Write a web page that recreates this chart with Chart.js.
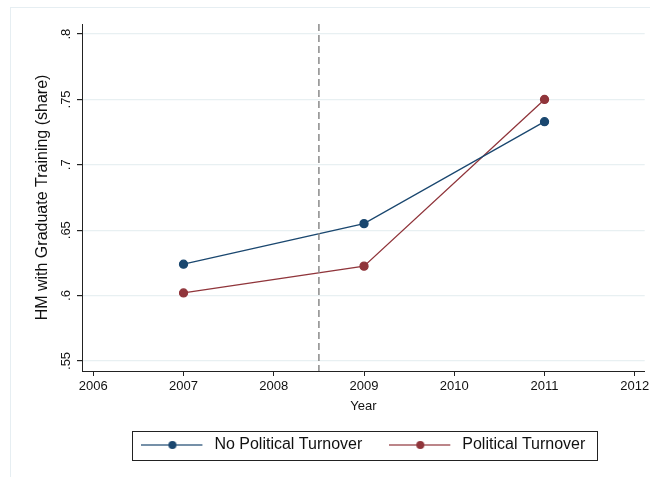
<!DOCTYPE html>
<html>
<head>
<meta charset="utf-8">
<script src="https://cdn.jsdelivr.net/npm/chart.js@4.4.1/dist/chart.umd.min.js"></script>
<style>
  html, body { margin: 0; padding: 0; background: #fff; }
  #wrap { width: 650px; height: 477px; }
</style>
</head>
<body>
<div id="wrap"><canvas id="myChart"></canvas></div>
<script>
const years = [2007, 2009, 2011];
const noTurnover = [0.624, 0.655, 0.733];
const turnover = [0.602, 0.6225, 0.750];
const xTicks = [2006, 2007, 2008, 2009, 2010, 2011, 2012];
const yTicks = [0.55, 0.6, 0.65, 0.7, 0.75, 0.8];
const yTickLabels = ['.55', '.6', '.65', '.7', '.75', '.8'];
const cutoffYear = 2008.5;

const blue = '#1a476f';
const red = '#90353b';
const font = 'Liberation Sans, Arial, sans-serif';

// legend symbol: short line with a dot in the middle
const legendSymbol = (color) => {
    const c = document.createElement('canvas');
    c.width = 65; c.height = 12;
    const g = c.getContext('2d');
    g.strokeStyle = color;
    g.globalAlpha = 0.8;
    g.lineWidth = 1.5;
    g.beginPath(); g.moveTo(0, 6); g.lineTo(61, 6); g.stroke();
    g.globalAlpha = 1;
    g.fillStyle = color;
    g.beginPath(); g.arc(31, 6, 4, 0, Math.PI * 2); g.fill();
    return c;
};
const symbols = [legendSymbol(blue), legendSymbol(red)];

const extras = {
    id: 'extras',
    beforeDraw(chart) {
        const ctx = chart.ctx;
        ctx.save();
        ctx.strokeStyle = '#e6eef2';
        ctx.lineWidth = 1;
        ctx.strokeRect(10.5, 7.5, 700, 500);
        ctx.restore();
    },
    afterDatasetsDraw(chart) {
        const ctx = chart.ctx;
        const a = chart.chartArea;
        const x = chart.scales.x.getPixelForValue(cutoffYear);
        ctx.save();
        ctx.strokeStyle = '#8a8a8a';
        ctx.lineWidth = 1.5;
        ctx.setLineDash([7, 4]);
        ctx.beginPath();
        ctx.moveTo(x, a.top);
        ctx.lineTo(x, a.bottom);
        ctx.stroke();
        ctx.restore();
    },
    afterDraw(chart) {
        const boxes = chart.legend.legendHitBoxes;
        if (!boxes || !boxes.length) return;
        const first = boxes[0], last = boxes[boxes.length - 1];
        const ctx = chart.ctx;
        const cy = first.top + first.height / 2;
        ctx.save();
        ctx.strokeStyle = '#222';
        ctx.lineWidth = 1;
        ctx.strokeRect(Math.round(first.left - 9) + 0.5, Math.round(cy - 14.5) + 0.5,
            Math.round(last.left + last.width - first.left + 21), 29);
        ctx.restore();
    }
};

const ctx = document.getElementById('myChart').getContext('2d');
const myChart = new Chart(ctx, {
    type: 'line',
    data: {
        datasets: [{
            label: 'No Political Turnover',
            data: years.map((y, i) => ({x: y, y: noTurnover[i]})),
            borderColor: blue,
            backgroundColor: blue,
            pointBackgroundColor: blue,
            pointBorderColor: blue,
            pointRadius: 4,
            borderWidth: 1.3
        }, {
            label: 'Political Turnover',
            data: years.map((y, i) => ({x: y, y: turnover[i]})),
            borderColor: red,
            backgroundColor: red,
            pointBackgroundColor: red,
            pointBorderColor: red,
            pointRadius: 4,
            borderWidth: 1.3
        }]
    },
    options: {
        responsive: true,
        maintainAspectRatio: false,
        animation: false,
        layout: { padding: { left: 10, right: 4, top: 24, bottom: 14 } },
        scales: {
            x: {
                type: 'linear',
                min: 2005.875,
                max: 2012.11,
                afterBuildTicks: (s) => { s.ticks = xTicks.map(v => ({value: v})); },
                afterFit: (s) => { s.height = 39; s.paddingRight = 0; s.paddingLeft = 0; },
                ticks: {
                    color: '#111',
                    font: { family: font, size: 13 },
                    padding: 3,
                    maxRotation: 0,
                    callback: (v) => String(v)
                },
                grid: { drawOnChartArea: false, tickLength: 5, tickColor: '#222' },
                border: { color: '#222', width: 1 },
                title: {
                    display: true,
                    text: 'Year',
                    color: '#111',
                    font: { family: font, size: 13 },
                    padding: { top: 0, bottom: -3.8 }
                }
            },
            y: {
                min: 0.5423,
                max: 0.8077,
                afterBuildTicks: (s) => { s.ticks = yTicks.map(v => ({value: v})); },
                afterFit: (s) => { s.width = 72; },
                ticks: {
                    color: '#111',
                    font: { family: font, size: 13 },
                    padding: 2,
                    minRotation: 90,
                    maxRotation: 90,
                    crossAlign: 'center',
                    callback: (v, i) => yTickLabels[i]
                },
                grid: { color: '#e8f0f2', lineWidth: 1.2, tickLength: 5, tickColor: '#222' },
                border: { color: '#222', width: 1 },
                title: {
                    display: true,
                    text: 'HM with Graduate Training (share)',
                    color: '#111',
                    font: { family: font, size: 16 },
                    padding: { top: 23, bottom: 0 }
                }
            }
        },
        plugins: {
            legend: {
                position: 'bottom',
                fullSize: false,
                labels: {
                    usePointStyle: true,
                    pointStyleWidth: 65,
                    padding: 27,
                    color: '#111',
                    font: { family: font, size: 16 },
                    generateLabels: (chart) => Chart.defaults.plugins.legend.labels.generateLabels(chart)
                        .map((l, i) => Object.assign(l, { pointStyle: symbols[i] }))
                }
            },
            tooltip: { enabled: false }
        }
    },
    plugins: [extras]
});
</script>
</body>
</html>
